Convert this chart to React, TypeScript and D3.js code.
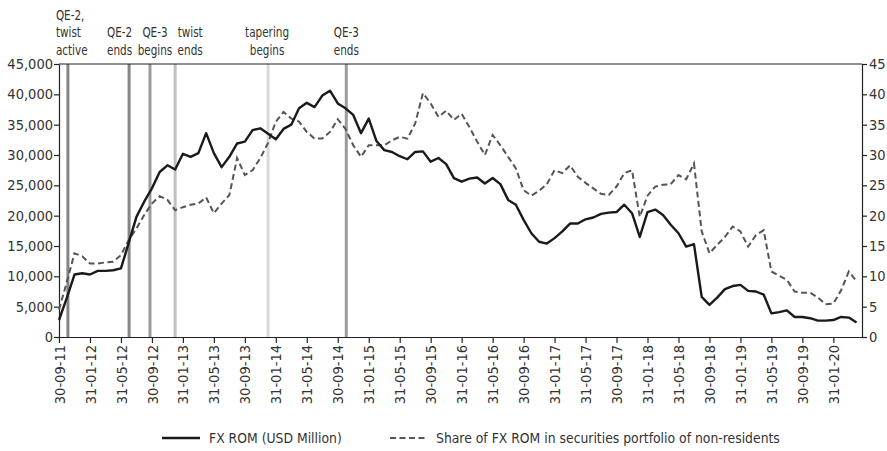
import React, { useEffect, useRef } from 'react';
import * as d3 from 'd3';

// monthly observations, Sep 2011 (index 0) .. Apr 2020 (index 103)
const fxRom = [
  2800, 6400, 10300, 10500, 10300, 10900, 10900, 11000, 11300, 15500,
  19800, 22300, 24500, 27200, 28300, 27600, 30200, 29700, 30300, 33600,
  30300, 28000, 29700, 31900, 32200, 34100, 34400, 33500, 32600, 34300,
  35000, 37700, 38600, 37900, 39800, 40600, 38500, 37700, 36600, 33600,
  36000, 32300, 30800, 30500, 29800, 29300, 30500, 30600, 28900, 29500,
  28500, 26200, 25600, 26100, 26300, 25300, 26200, 25200, 22600, 21800,
  19300, 17100, 15700, 15400, 16300, 17400, 18700, 18700, 19400, 19700,
  20300, 20500, 20600, 21800, 20400, 16500, 20600, 21000, 20100, 18500,
  17100, 14900, 15300, 6600, 5300, 6500, 7900, 8400, 8600, 7600,
  7500, 7000, 3900, 4100, 4400, 3300, 3300, 3100, 2700, 2700,
  2800, 3300, 3200, 2400
];

const fxRomShare = [
  4.5, 9.0, 13.8, 13.3, 12.1, 12.1, 12.3, 12.4, 13.5, 16.0,
  17.9, 20.1, 22.0, 23.2, 22.6, 20.9, 21.4, 21.8, 22.0, 23.0,
  20.4, 22.0, 23.4, 29.5, 26.7, 27.5, 29.5, 32.0, 35.5, 37.1,
  36.0, 35.5, 33.8, 32.7, 32.7, 33.8, 35.9, 34.3, 31.6, 29.7,
  31.6, 31.6, 31.6, 32.4, 33.0, 32.7, 35.2, 40.2, 38.5, 36.3,
  37.3, 35.8, 36.8, 34.6, 32.2, 30.0, 33.3, 31.6, 29.7, 27.8,
  24.2, 23.3, 24.1, 25.2, 27.5, 27.0, 28.3, 26.4, 25.4, 24.5,
  23.6, 23.4, 24.8, 27.0, 27.5, 19.8, 23.3, 24.8, 25.1, 25.2,
  26.7, 26.0, 28.6, 17.4, 13.8, 15.2, 16.5, 18.2, 17.4, 14.9,
  16.8, 17.6, 10.8, 10.1, 9.4, 7.5, 7.3, 7.3, 6.5, 5.4,
  5.5, 7.7, 10.8, 9.2
];

const tickLabels = [
  '30-09-11', '31-01-12', '31-05-12', '30-09-12', '31-01-13', '31-05-13',
  '30-09-13', '31-01-14', '31-05-14', '30-09-14', '31-01-15', '31-05-15',
  '30-09-15', '31-01-16', '31-05-16', '30-09-16', '31-01-17', '31-05-17',
  '30-09-17', '31-01-18', '31-05-18', '30-09-18', '31-01-19', '31-05-19',
  '30-09-19', '31-01-20'
];

// policy events, month index since Sep 2011
const eventLabels = [
  ['QE-2,', 'twist', 'active'],
  ['QE-2', 'ends'],
  ['QE-3', 'begins'],
  ['twist', 'ends'],
  ['tapering', 'begins'],
  ['QE-3', 'ends']
];
const eventMonths = [1.15, 9.05, 11.75, 15.0, 27.0, 37.1];

const seriesNames = ['FX ROM (USD Million)', 'Share of FX ROM in securities portfolio of non-residents'];

const W = 887;
const H = 451;
const FONT = "'DejaVu Sans Condensed', 'Liberation Sans Narrow', sans-serif";
const TEXT = '#333';

const eventColors = ['#858585', '#858585', '#9c9c9c', '#c0c0c0', '#dadada', '#9c9c9c'];
const labelShift = [-12, -9.5, 5, 15, -1, 0];

const App = () => {
  const svgRef = useRef<SVGSVGElement | null>(null);

  useEffect(() => {
    if (!svgRef.current) return;
    const svg = d3.select(svgRef.current);
    svg.selectAll('*').remove();

    const margin = { top: 64, right: 25, bottom: 114, left: 59 };
    const x = d3.scaleLinear().domain([0, 103.7]).range([margin.left, W - margin.right]);
    const yL = d3.scaleLinear().domain([0, 45000]).range([H - margin.bottom, margin.top]);
    const yR = d3.scaleLinear().domain([0, 45]).range([H - margin.bottom, margin.top]);

    // event markers
    eventMonths.forEach((m, i) => {
      svg.append('line')
        .attr('x1', x(m)).attr('x2', x(m))
        .attr('y1', margin.top).attr('y2', H - margin.bottom)
        .attr('stroke', eventColors[i])
        .attr('stroke-width', 3);

      const lines = eventLabels[i];
      const g = svg.append('g')
        .attr('transform', `translate(${x(m) + labelShift[i]},0) scale(0.8,1)`);
      const t = g.append('text')
        .attr('text-anchor', i === 0 ? 'start' : 'middle')
        .style('font-family', FONT)
        .style('font-size', '14.5px')
        .attr('fill', TEXT);
      lines.forEach((ln, j) => {
        t.append('tspan')
          .attr('x', 0)
          .attr('y', 55 - (lines.length - 1 - j) * 17.5)
          .text(ln);
      });
    });

    // frame top
    svg.append('line')
      .attr('x1', margin.left).attr('x2', W - margin.right)
      .attr('y1', margin.top).attr('y2', margin.top)
      .attr('stroke', '#222').attr('stroke-width', 1.2);

    const styleAxis = (g: any) => {
      g.select('.domain').attr('stroke', '#222').attr('stroke-width', 1.2);
      g.selectAll('.tick line').attr('stroke', '#222').attr('stroke-width', 1.2);
      g.selectAll('text')
        .style('font-family', FONT)
        .style('font-size', '14.5px')
        .attr('fill', TEXT);
    };

    // bottom axis
    const xAxis = svg.append('g')
      .attr('transform', `translate(0,${H - margin.bottom})`)
      .call(d3.axisBottom(x)
        .tickValues(tickLabels.map((_, i) => i * 4))
        .tickFormat((d: any) => tickLabels[d / 4])
        .tickSize(6)
        .tickSizeOuter(0));
    styleAxis(xAxis);
    xAxis.selectAll('text')
      .attr('transform', 'rotate(-90)')
      .attr('text-anchor', 'end')
      .attr('x', -8)
      .attr('y', 0)
      .attr('dy', '0.35em');

    // left axis
    const left = svg.append('g')
      .attr('transform', `translate(${margin.left},0)`)
      .call(d3.axisLeft(yL).ticks(9).tickFormat(d3.format(',')).tickSize(5).tickSizeOuter(0));
    styleAxis(left);
    left.selectAll('text').attr('x', -6);

    // right axis
    const right = svg.append('g')
      .attr('transform', `translate(${W - margin.right},0)`)
      .call(d3.axisRight(yR).ticks(9).tickSize(5).tickSizeOuter(0));
    styleAxis(right);
    right.selectAll('text').attr('x', 7);

    // lines
    const lineL = d3.line<number>().x((_, i) => x(i)).y(d => yL(d));
    const lineR = d3.line<number>().x((_, i) => x(i)).y(d => yR(d));

    svg.append('path')
      .datum(fxRomShare)
      .attr('fill', 'none')
      .attr('stroke', '#555')
      .attr('stroke-width', 2)
      .attr('stroke-dasharray', '6,3.5')
      .attr('d', lineR);

    svg.append('path')
      .datum(fxRom)
      .attr('fill', 'none')
      .attr('stroke', '#1a1a1a')
      .attr('stroke-width', 2.4)
      .attr('stroke-linejoin', 'round')
      .attr('d', lineL);

    // legend
    const legendY = 438;
    const legendItems = [
      { x0: 162, x1: 200, tx: 209, dash: null, color: '#1a1a1a', w: 2.4 },
      { x0: 390, x1: 426, tx: 436, dash: '6,3.5', color: '#555', w: 2 }
    ];
    legendItems.forEach((it, i) => {
      svg.append('line')
        .attr('x1', it.x0).attr('x2', it.x1)
        .attr('y1', legendY).attr('y2', legendY)
        .attr('stroke', it.color)
        .attr('stroke-width', it.w)
        .attr('stroke-dasharray', it.dash);
      svg.append('text')
        .attr('x', it.tx)
        .attr('y', legendY)
        .attr('dy', '0.35em')
        .style('font-family', FONT)
        .style('font-size', '13.8px')
        .attr('fill', TEXT)
        .text(seriesNames[i]);
    });
  }, []);

  return (
    <svg
      ref={svgRef}
      width={W}
      height={H}
      style={{ position: 'absolute', left: 0, top: 0, background: '#fff' }}
    />
  );
};

export default App;
